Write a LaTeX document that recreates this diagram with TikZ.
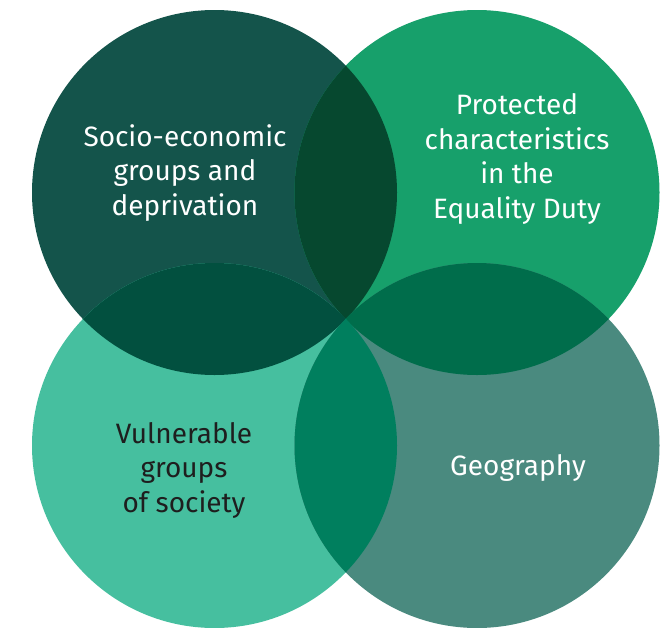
\documentclass[tikz,border=0pt]{standalone}
\usepackage{fontspec}
\setmainfont{Fira Sans}
\definecolor{cTL}{HTML}{14544B}
\definecolor{cTR}{HTML}{17A06B}
\definecolor{cBL}{HTML}{46BF9F}
\definecolor{cBR}{HTML}{4A8A7F}
\definecolor{cTLTR}{HTML}{06482F}
\definecolor{cTLBL}{HTML}{02503F}
\definecolor{cTRBR}{HTML}{006D4B}
\definecolor{cBLBR}{HTML}{007F5E}
\definecolor{darktext}{HTML}{1E1E1E}
\tikzset{
  label text/.style={align=center, font=\fontsize{28}{34.5}\selectfont, inner sep=0pt},
}
\begin{document}
\begin{tikzpicture}[x=1pt,y=-1pt]
\useasboundingbox (0,0) rectangle (671,627);
\def\R{182.5}
\coordinate (TL) at (214.5,192.5);
\coordinate (TR) at (477,192.5);
\coordinate (BL) at (214.5,445.5);
\coordinate (BR) at (477,445.5);
\fill[cTL] (TL) circle[radius=\R];
\fill[cTR] (TR) circle[radius=\R];
\fill[cBL] (BL) circle[radius=\R];
\fill[cBR] (BR) circle[radius=\R];
\begin{scope}
  \clip (TL) circle[radius=\R];
  \fill[cTLTR] (TR) circle[radius=\R];
  \fill[cTLBL] (BL) circle[radius=\R];
\end{scope}
\begin{scope}
  \clip (BR) circle[radius=\R];
  \fill[cTRBR] (TR) circle[radius=\R];
  \fill[cBLBR] (BL) circle[radius=\R];
\end{scope}
\node[label text, text=white] (tTL) at (185,173) {Socio-economic\\groups and\\deprivation};
\node[label text, text=white] (tTR) at (517,159) {Protected\\characteristics\\in the\\Equality Duty};
\node[label text, text=darktext] (tBL) at (184,470) {Vulnerable\\groups\\of society};
\node[label text, text=white] (tBR) at (518,468) {Geography};
\end{tikzpicture}
\end{document}
